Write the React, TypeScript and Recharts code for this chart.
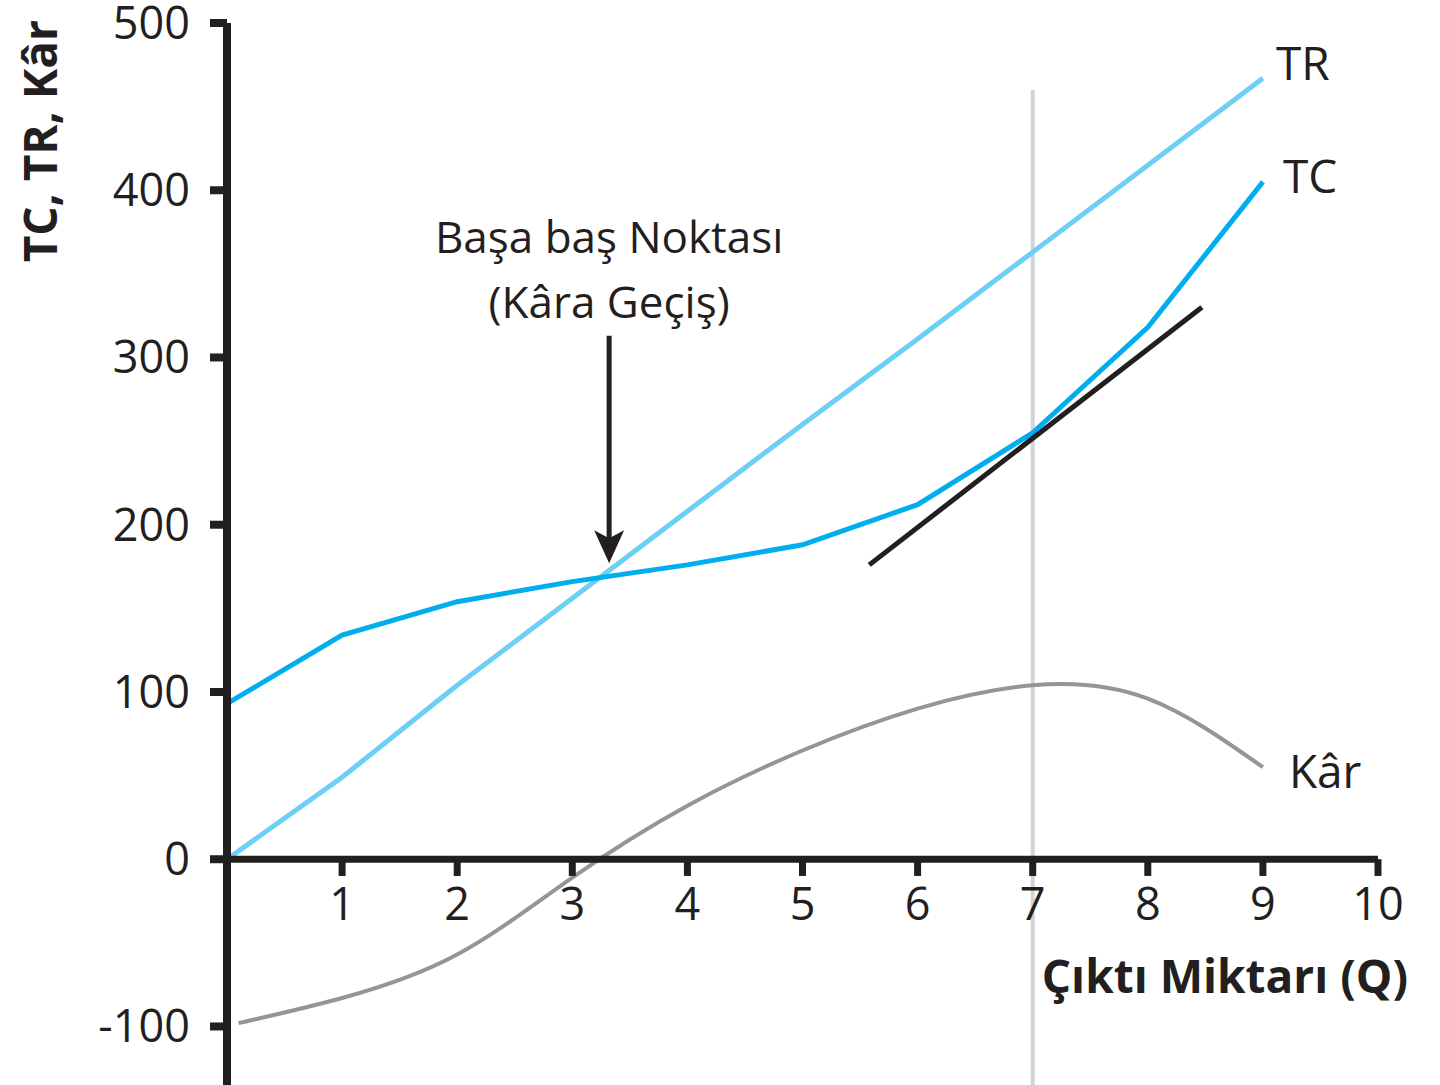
import { LineChart, Line, XAxis, YAxis, ReferenceLine, ReferenceDot } from "recharts";

const TEXT = "#231f20";
const FONT = "'Open Sans', sans-serif";

// output quantity (Q) and the three curves
const trQ = [0, 1, 2, 3, 4, 5, 6, 7, 8, 9];
const trValues = [0, 49, 104, 156, 208, 260, 311, 363, 415, 467];

const tcQ = [0, 1, 2, 3, 4, 5, 6, 7, 8, 9];
const tcValues = [93, 134, 154, 166, 176, 188, 212, 255, 318, 405];

const profitQ = [0.1, 1, 2, 3, 4, 5, 6, 7, 8, 9];
const profitValues = [-98, -83, -57, -11, 32, 65, 90, 104, 96, 55];

// tangent to TC at the profit-maximising output
const tangentQ = [5.58, 8.47];
const tangentValues = [176, 330];

// vertical guide at Q = 7
const guideQ = 7;
const guideValues = [460, -135];

// break-even arrow
const breakEvenQ = 3.32;
const arrowValues = [313, 177];

const xTicks = [1, 2, 3, 4, 5, 6, 7, 8, 9, 10];
const yTicks = [-100, 0, 100, 200, 300, 400, 500];
const yDomain = [-135, 500];

const toRows = (qs: number[], vs: number[]) => qs.map((q, i) => ({ q, v: vs[i] }));
const trData = toRows(trQ, trValues);
const tcData = toRows(tcQ, tcValues);
const profitData = toRows(profitQ, profitValues);
const last = (a: number[]) => a[a.length - 1];

const endLabel = (text: string, dx: number, dy: number) => (p: any) => {
  const vb = p?.viewBox ?? { x: 0, y: 0 };
  return (
    <text x={vb.x + dx} y={vb.y + dy} fill={TEXT} fontSize={46} fontFamily={FONT}>
      {text}
    </text>
  );
};

const ArrowShape = (p: any) => {
  const { x1, y1, x2, y2 } = p;
  return (
    <g>
      <line x1={x1} y1={y1} x2={x2} y2={y2 - 20} stroke={TEXT} strokeWidth={5} />
      <polygon
        points={`${x2},${y2} ${x2 - 15},${y2 - 33} ${x2},${y2 - 25} ${x2 + 15},${y2 - 33}`}
        fill={TEXT}
      />
    </g>
  );
};

const breakEvenText = (p: any) => {
  const vb = p?.viewBox ?? { x: 0, y: 0 };
  return (
    <g fill={TEXT} fontSize={44} fontFamily={FONT} textAnchor="middle">
      <text x={vb.x} y={vb.y - 83}>Başa baş Noktası</text>
      <text x={vb.x} y={vb.y - 18}>(Kâra Geçiş)</text>
    </g>
  );
};

const yTitle = (p: any) => {
  const vb = p?.viewBox ?? { x: 0, y: 0 };
  const x = vb.x + 57;
  const y = vb.y - 3;
  return (
    <text
      x={x}
      y={y}
      transform={`rotate(-90, ${x}, ${y})`}
      textAnchor="end"
      fill={TEXT}
      fontSize={46}
      fontWeight={700}
      fontFamily={FONT}
    >
      TC, TR, Kâr
    </text>
  );
};

const xTitle = (p: any) => {
  const vb = p?.viewBox ?? { x: 0, y: 0, width: 0 };
  return (
    <text
      x={vb.x + vb.width + 30}
      y={vb.y + 134}
      textAnchor="end"
      fill={TEXT}
      fontSize={46}
      fontWeight={700}
      fontFamily={FONT}
    >
      Çıktı Miktarı (Q)
    </text>
  );
};

export default function App() {
  return (
    <div style={{ position: "absolute", left: 0, top: 0, width: 1440, height: 1085, background: "#fff" }}>
      <LineChart width={1440} height={1085} margin={{ top: 23, right: 62, bottom: 0, left: 0 }}>
        <XAxis type="number" dataKey="q" domain={[0, 10]} hide allowDataOverflow />
        <YAxis
          type="number"
          domain={yDomain}
          ticks={yTicks}
          interval={0}
          width={227}
          allowDataOverflow
          axisLine={{ stroke: TEXT, strokeWidth: 8 }}
          tickLine={{ stroke: TEXT, strokeWidth: 8 }}
          tickSize={17}
          tickMargin={20}
          tick={{ fill: TEXT, fontSize: 45, fontFamily: FONT }}
          label={{ content: yTitle }}
        />

        <ReferenceLine
          segment={[{ x: guideQ, y: guideValues[0] }, { x: guideQ, y: guideValues[1] }]}
          stroke="#d1d3d4"
          strokeWidth={4}
        />

        <Line data={trData} dataKey="v" type="linear" stroke="#6dcff6" strokeWidth={5} dot={false} isAnimationActive={false} />
        <Line data={tcData} dataKey="v" type="linear" stroke="#00aeef" strokeWidth={5} dot={false} isAnimationActive={false} />
        <Line data={profitData} dataKey="v" type="natural" stroke="#939598" strokeWidth={4} dot={false} isAnimationActive={false} />

        <ReferenceLine
          segment={[{ x: tangentQ[0], y: tangentValues[0] }, { x: tangentQ[1], y: tangentValues[1] }]}
          stroke={TEXT}
          strokeWidth={5}
        />

        <ReferenceLine y={0} stroke={TEXT} strokeWidth={7} label={{ content: xTitle }} />
        {xTicks.map((q) => (
          <ReferenceLine
            key={q}
            segment={[{ x: q, y: 0 }, { x: q, y: -10 }]}
            stroke={TEXT}
            strokeWidth={7}
            label={{ value: String(q), position: "bottom", offset: 12, fill: TEXT, fontSize: 45, fontFamily: FONT }}
          />
        ))}

        <ReferenceLine
          segment={[{ x: breakEvenQ, y: arrowValues[0] }, { x: breakEvenQ, y: arrowValues[1] }]}
          shape={ArrowShape}
          label={{ content: breakEvenText }}
        />

        <ReferenceDot x={last(trQ)} y={last(trValues)} r={0} fill="none" stroke="none" label={{ content: endLabel("TR", 13, 2) }} />
        <ReferenceDot x={last(tcQ)} y={last(tcValues)} r={0} fill="none" stroke="none" label={{ content: endLabel("TC", 20, 11) }} />
        <ReferenceDot x={last(profitQ)} y={last(profitValues)} r={0} fill="none" stroke="none" label={{ content: endLabel("Kâr", 26, 21) }} />
      </LineChart>
    </div>
  );
}
